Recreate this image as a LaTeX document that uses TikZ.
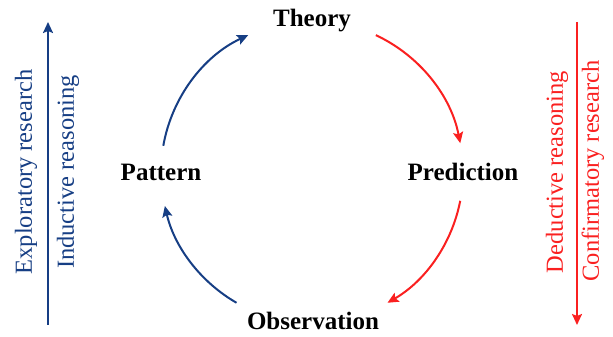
\documentclass[tikz,border=0pt]{standalone}
\usepackage{fontspec}
\setmainfont{Liberation Serif}
\usetikzlibrary{arrows.meta}
\definecolor{cblue}{RGB}{22,62,132}
\definecolor{cred}{RGB}{250,32,32}
\begin{document}
\begin{tikzpicture}[x=1pt,y=1pt,
  stage/.style={font=\fontsize{25}{30}\selectfont\bfseries, inner sep=0pt, anchor=base},
  side/.style={font=\fontsize{24.5}{29}\selectfont, inner sep=0pt, rotate=90},
  blueline/.style={draw=cblue, line width=2pt, -{Stealth[length=11pt,width=10pt,inset=2pt]}},
  redline/.style={draw=cred, line width=2pt, -{Stealth[length=11pt,width=10pt,inset=2pt]}}]
\useasboundingbox (0,0) rectangle (613,337);
\coordinate (O) at (312,165);
\node[stage] (theory) at (312,310) {Theory};
\node[stage] (prediction) at (463,156) {Prediction};
\node[stage] (pattern) at (161,156) {Pattern};
\node[stage] (observation) at (313,7) {Observation};
% cycle arcs
\draw[redline] ([shift={(65:151)}]O) arc[start angle=65, end angle=11, radius=151];
\draw[redline] ([shift={(-11:151)}]O) arc[start angle=-11, end angle=-60, radius=151];
\draw[blueline] ([shift={(240:151)}]O) arc[start angle=240, end angle=193, radius=151];
\draw[blueline] ([shift={(170:151)}]O) arc[start angle=170, end angle=115, radius=151];
% side arrows
\coordinate (lb) at (48,12);
\coordinate (lt) at (48,315);
\coordinate (rt) at (577,315);
\coordinate (rb) at (577,12);
\draw[blueline] (lb) -- (lt);
\draw[redline] (rt) -- (rb);
\node[side, text=cblue] (explo) at (26,165) {Exploratory research};
\node[side, text=cblue] (induc) at (68,165) {Inductive reasoning};
\node[side, text=cred] (deduc) at (557,165) {Deductive reasoning};
\node[side, text=cred] (confi) at (593,166) {Confirmatory research};
\end{tikzpicture}
\end{document}
